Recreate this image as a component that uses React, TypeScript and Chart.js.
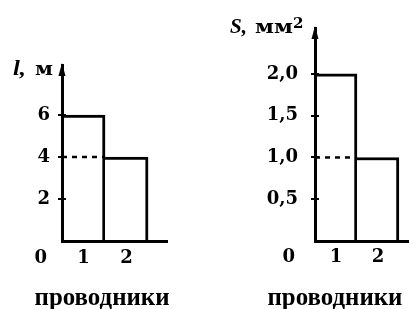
import React, { useEffect, useRef } from "react";
import { Chart, registerables } from "chart.js";

Chart.register(...registerables);

// ---- data ----
const conductors = ["1", "2"];
const lengthValues = [6, 4]; // l, м
const areaValues = [2.0, 1.0]; // S, мм²
const lengthRef = 4;
const areaRef = 1.0;
const lengthTicks = [2, 4, 6];
const lengthTickLabels = ["2", "4", "6"];
const areaTicks = [0.5, 1.0, 1.5, 2.0];
const areaTickLabels = ["0,5", "1,0", "1,5", "2,0"];
const originLabel = "0";
const xTitleText = "проводники";

const TICK_SIZE = 18;
const TICK_FONT = { family: "'DejaVu Serif', serif", weight: "bold" as const, size: TICK_SIZE };
const TICK_FONT_CSS = `bold ${TICK_SIZE}px 'DejaVu Serif', serif`;

function stretchText(
  ctx: CanvasRenderingContext2D,
  text: string,
  x: number,
  y: number,
  font: string,
  width: number | null,
  align: "left" | "center" = "left"
) {
  ctx.save();
  ctx.font = font;
  ctx.textBaseline = "alphabetic";
  ctx.textAlign = "left";
  const w = ctx.measureText(text).width;
  const sx = width ? width / w : 1;
  const start = align === "center" ? x - (w * sx) / 2 : x;
  ctx.translate(start, y);
  ctx.scale(sx, 1);
  ctx.fillStyle = "#000";
  ctx.fillText(text, 0, 0);
  ctx.restore();
}

type Spec = {
  values: number[];
  refValue: number;
  yTicks: number[];
  yTickLabels: string[];
  yMax: number;
  xMax: number;
  axisX: number;
  top: number;
  rightPad: number;
  width: number;
  yPad: number;
  xPad: number;
  xTitleOffset: number;
  drawTitle: (ctx: CanvasRenderingContext2D, L: number, T: number) => void;
};

function buildConfig(spec: Spec): any {
  const overlay = {
    id: "overlay",
    afterDraw(chart: any) {
      const ctx: CanvasRenderingContext2D = chart.ctx;
      const ys = chart.scales.y;
      const xs = chart.scales.x;
      const L = chart.chartArea.left;
      const T = chart.chartArea.top;
      const B = chart.chartArea.bottom;
      ctx.save();
      ctx.strokeStyle = "#000";
      ctx.fillStyle = "#000";
      // cross ticks
      ctx.lineWidth = 2;
      spec.yTicks.forEach((v) => {
        const y = Math.round(ys.getPixelForValue(v));
        ctx.beginPath();
        ctx.moveTo(L - 4, y);
        ctx.lineTo(L + 4, y);
        ctx.stroke();
      });
      // arrow head
      ctx.beginPath();
      ctx.moveTo(L, T - 2);
      ctx.lineTo(L - 3.5, T + 11);
      ctx.lineTo(L + 3.5, T + 11);
      ctx.closePath();
      ctx.fill();
      // origin label
      ctx.font = TICK_FONT_CSS;
      ctx.textAlign = "right";
      ctx.textBaseline = "middle";
      ctx.fillText(originLabel, L - spec.yPad - 3, B + spec.xPad + TICK_SIZE * 0.6);
      ctx.restore();
      // axis title
      spec.drawTitle(ctx, L, T);
      // x title
      stretchText(
        ctx,
        xTitleText,
        xs.getPixelForValue(1) + spec.xTitleOffset,
        305,
        "bold 26px 'Liberation Serif', serif",
        135,
        "center"
      );
    },
  };

  return {
    type: "bar",
    data: {
      datasets: [
        {
          type: "line",
          data: [
            { x: 0, y: spec.refValue },
            { x: 1, y: spec.refValue },
          ],
          borderColor: "#000",
          borderWidth: 2.5,
          borderDash: [5, 5],
          pointRadius: 0,
          order: 0,
        },
        {
          type: "bar",
          data: spec.values.map((v, i) => ({ x: i + 0.5, y: v })),
          backgroundColor: "#fff",
          borderColor: "#000",
          borderWidth: { top: 3, right: 3, bottom: 0, left: 0 },
          borderSkipped: false,
          barPercentage: 1,
          categoryPercentage: 1,
          order: 1,
        },
      ],
    },
    options: {
      animation: false,
      responsive: false,
      maintainAspectRatio: false,
      events: [],
      layout: { padding: { top: spec.top, right: spec.rightPad, left: 0, bottom: 0 } },
      plugins: { legend: { display: false }, tooltip: { enabled: false }, title: { display: false } },
      scales: {
        x: {
          type: "linear",
          min: 0,
          max: spec.xMax,
          offset: false,
          grid: { display: false, offset: false, drawTicks: false },
          border: { display: true, color: "#000", width: 3, z: 1 },
          afterBuildTicks: (scale: any) => {
            scale.ticks = conductors.map((_, i) => ({ value: i + 0.5 }));
          },
          afterFit: (scale: any) => {
            scale.height = 309 - 241;
          },
          ticks: {
            color: "#000",
            font: TICK_FONT,
            padding: spec.xPad,
            maxRotation: 0,
            autoSkip: false,
            callback: (_v: any, i: number) => conductors[i],
          },
        },
        y: {
          type: "linear",
          min: 0,
          max: spec.yMax,
          grid: { display: false, drawTicks: false },
          border: { display: true, color: "#000", width: 3, z: 1 },
          afterBuildTicks: (scale: any) => {
            scale.ticks = spec.yTicks.map((v) => ({ value: v }));
          },
          afterFit: (scale: any) => {
            scale.width = spec.axisX;
          },
          ticks: {
            color: "#000",
            font: TICK_FONT,
            padding: spec.yPad,
            autoSkip: false,
            callback: (_v: any, i: number) => spec.yTickLabels[i],
          },
        },
      },
    },
    plugins: [overlay],
  };
}

const leftSpec: Spec = {
  values: lengthValues,
  refValue: lengthRef,
  yTicks: lengthTicks,
  yTickLabels: lengthTickLabels,
  yMax: 8.38,
  xMax: 2.44,
  axisX: 62,
  top: 65,
  rightPad: 33,
  width: 200,
  yPad: 12,
  xPad: 7,
  xTitleOffset: -3,
  drawTitle: (ctx, L, T) => {
    stretchText(ctx, "l,", L - 49, T + 10, "italic bold 21px 'Liberation Serif', serif", 13);
    stretchText(ctx, "м", L - 27, T + 10, "bold 18px 'DejaVu Serif', serif", 18);
  },
};

const rightSpec: Spec = {
  values: areaValues,
  refValue: areaRef,
  yTicks: areaTicks,
  yTickLabels: areaTickLabels,
  yMax: 2.55,
  xMax: 2.24,
  axisX: 115,
  top: 28,
  rightPad: 0,
  width: 209,
  yPad: 17,
  xPad: 6,
  xTitleOffset: -22,
  drawTitle: (ctx, L, T) => {
    stretchText(ctx, "S,", L - 85, T + 5, "italic bold 22px 'Liberation Serif', serif", 17);
    stretchText(ctx, "мм", L - 60, T + 5, "bold 18px 'DejaVu Serif', serif", 38);
    stretchText(ctx, "2", L - 22, T, "bold 15px 'DejaVu Serif', serif", null);
  },
};

function ConductorChart({ spec, left }: { spec: Spec; left: number }) {
  const ref = useRef<HTMLCanvasElement>(null);
  useEffect(() => {
    const chart = new Chart(ref.current as HTMLCanvasElement, buildConfig(spec));
    return () => chart.destroy();
  }, [spec]);
  return (
    <canvas
      ref={ref}
      width={spec.width}
      height={309}
      style={{ position: "absolute", left, top: 0, width: spec.width, height: 309, display: "block" }}
    />
  );
}

export default function App() {
  return (
    <div
      style={{
        position: "fixed",
        left: 0,
        top: 0,
        width: 409,
        height: 309,
        background: "#fff",
        overflow: "hidden",
      }}
    >
      <ConductorChart spec={leftSpec} left={0} />
      <ConductorChart spec={rightSpec} left={200} />
    </div>
  );
}
